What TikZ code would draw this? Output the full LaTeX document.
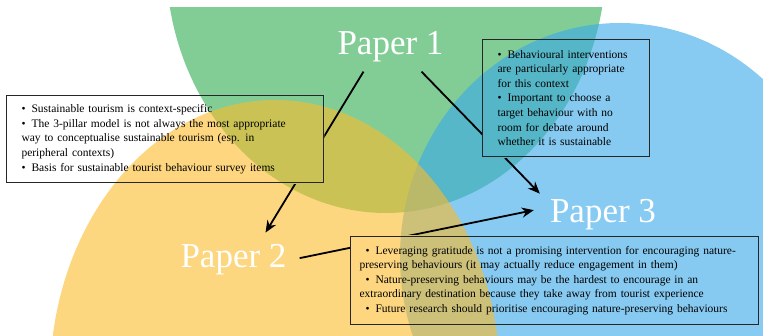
\documentclass[tikz,border=0pt]{standalone}
\usepackage{fontspec}
\setmainfont{Liberation Serif}
\usetikzlibrary{arrows.meta}
\definecolor{grnbase}{RGB}{47,172,80}
\definecolor{blubase}{RGB}{55,168,233}
\definecolor{ylwbase}{RGB}{252,187,43}
\pgfdeclarelayer{bg}
\pgfdeclarelayer{mid}
\pgfdeclarelayer{cover}
\pgfsetlayers{bg,mid,cover,main}
\tikzset{
  blob/.style={fill opacity=0.6},
  arr/.style={-{Stealth[length=12pt,width=10pt]}, line width=1.8pt, black},
  note/.style={draw=black!85, line width=1.1pt, anchor=north west, align=left,
    inner ysep=3pt, font=\fontsize{11.5}{14.6}\selectfont},
  ppr/.style={text=white, font=\fontsize{35}{40}\selectfont, inner sep=0pt, anchor=base},
}
\newcommand{\blobs}{%
  \fill[blob, grnbase] (386,-40) ellipse [x radius=220pt, y radius=253pt];
  \fill[blob, blubase] (620,257) ellipse [x radius=220pt, y radius=234pt];
  \fill[blob, ylwbase] (275,380) ellipse [x radius=225pt, y radius=280pt];
}
\newcommand{\bul}{\textbullet\hspace{6pt}}

\begin{document}
\begin{tikzpicture}[x=1pt,y=-1pt]
  \useasboundingbox (0,0) rectangle (763,336);
  % --- paper labels ---
  \node[ppr] (p1) at (390.5,55) {Paper 1};
  \node[ppr] (p2) at (233.5,268) {Paper 2};
  \node[ppr] (p3) at (603,223) {Paper 3};
  % --- notes ---
  \node[note, text width=287pt, inner xsep=15pt, minimum height=87pt] (n1) at (6,95)
    {\bul Sustainable tourism is context-specific\\
     \bul The 3-pillar model is not always the most appropriate\\
     way to conceptualise sustainable tourism (esp. in\\
     peripheral contexts)\\
     \bul Basis for sustainable tourist behaviour survey items};
  \node[note, text width=137pt, inner xsep=15pt, minimum height=117pt] (n2) at (482,39)
    {\bul Behavioural interventions\\
     are particularly appropriate\\
     for this context\\
     \bul Important to choose a\\
     target behaviour with no\\
     room for debate around\\
     whether it is sustainable};
  \node[note, text width=390pt, inner xsep=9pt, minimum height=88pt] (n3) at (350,236)
    {\hspace*{6pt}\bul Leveraging gratitude is not a promising intervention for encouraging nature-\\
     preserving behaviours (it may actually reduce engagement in them)\\
     \hspace*{6pt}\bul Nature-preserving behaviours may be the hardest to encourage in an\\
     extraordinary destination because they take away from tourist experience\\
     \hspace*{6pt}\bul Future research should prioritise encouraging nature-preserving behaviours};

  % --- circles ---
  \begin{pgfonlayer}{bg}
    \begin{scope}
      \clip (0,8) rectangle (763,336);
      \blobs
    \end{scope}
  \end{pgfonlayer}

  % --- arrows ---
  \begin{pgfonlayer}{mid}
    \draw[arr] ([xshift=-27pt,yshift=-9pt]p1.south) -- ([xshift=32pt,yshift=12pt]p2.north);
    \draw[arr] ([xshift=31pt,yshift=-9pt]p1.south) -- ([xshift=-10pt,yshift=6pt]p3.north west);
    \draw[arr] ([xshift=13pt,yshift=2pt]p2.east) -- ([xshift=-16pt,yshift=5pt]p3.west);
  \end{pgfonlayer}

  % --- notes hide the arrows ---
  \begin{pgfonlayer}{cover}
    \foreach \n in {n1,n2,n3}{
      \begin{scope}
        \clip (\n.south west) rectangle (\n.north east);
        \fill[white] (0,0) rectangle (763,336);
        \blobs
      \end{scope}
    }
  \end{pgfonlayer}
\end{tikzpicture}
\end{document}
